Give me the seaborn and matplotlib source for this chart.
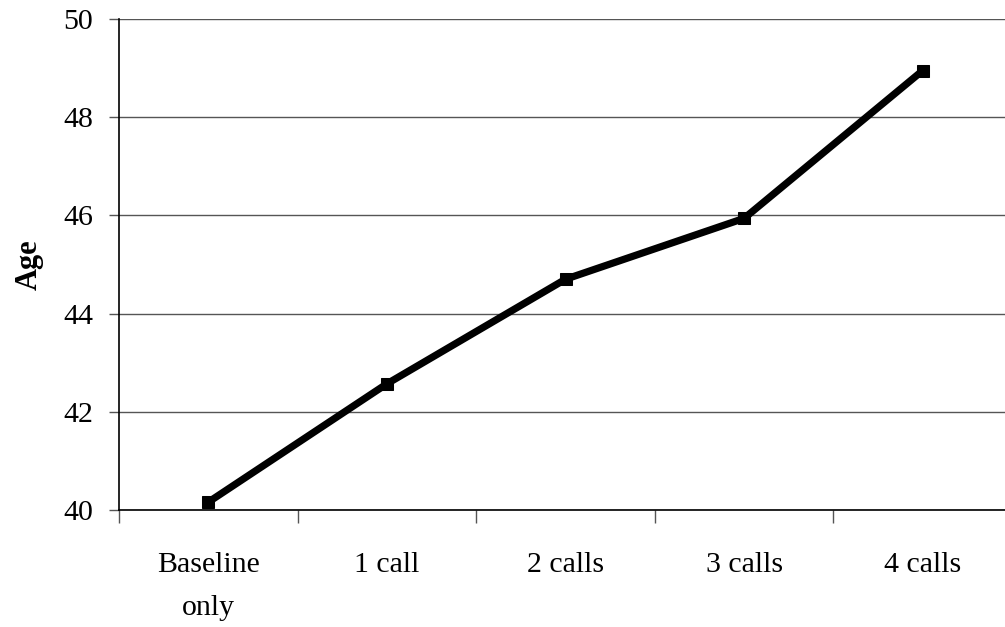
import matplotlib
matplotlib.use('Agg')

import matplotlib.pyplot as plt
import seaborn as sns
import numpy as np

categories = ["Baseline\nonly", "1 call", "2 calls", "3 calls", "4 calls"]
age = [40.16, 42.57, 44.70, 45.94, 48.95]
y_ticks = [40, 42, 44, 46, 48, 50]

sns.set_theme(style="white")
plt.rcParams['font.family'] = ['Liberation Serif', 'DejaVu Serif']
plt.rcParams['text.color'] = 'black'
plt.rcParams['xtick.labelcolor'] = 'black'
plt.rcParams['ytick.labelcolor'] = 'black'

fig = plt.figure(figsize=(10.05, 6.27), dpi=100)
ax = fig.add_axes([119 / 1005, 1 - 510 / 627, (1012 - 119) / 1005, (510 - 19) / 627])

pos = np.arange(len(categories))
sns.lineplot(x=pos, y=age, ax=ax, color='black', linewidth=5.2,
             marker='s', markersize=8.5, markeredgecolor='black')

ax.set_xlim(-0.5, len(categories) - 0.5)
ax.set_ylim(40, 50)
ax.set_yticks(y_ticks)
ax.set_yticklabels([str(t) for t in y_ticks], fontsize=21.5)

# boundary ticks between categories, labels sit in the middle
ax.set_xticks(np.arange(-0.5, len(categories), 1.0))
ax.set_xticklabels([])
ax.set_xticks(pos, minor=True)
ax.set_xticklabels(categories, minor=True, fontsize=21.5, linespacing=1.85, va='top')
ax.tick_params(axis='x', which='minor', length=0, pad=30)
ax.tick_params(axis='x', which='major', length=9, width=1, color='#555555', bottom=True, direction='out')
ax.tick_params(axis='y', length=7.5, width=1, color='#555555', left=True, direction='out', pad=11)

ax.yaxis.grid(True, color='#555555', linewidth=1)
ax.set_axisbelow(True)
for side in ['top', 'right']:
    ax.spines[side].set_visible(False)
for side in ['left', 'bottom']:
    ax.spines[side].set_color('black')
    ax.spines[side].set_linewidth(1.2)

ax.set_ylabel("Age", fontsize=22, fontweight='bold', color='black', labelpad=14)

fig.savefig("out.png", dpi=100)
plt.close(fig)
